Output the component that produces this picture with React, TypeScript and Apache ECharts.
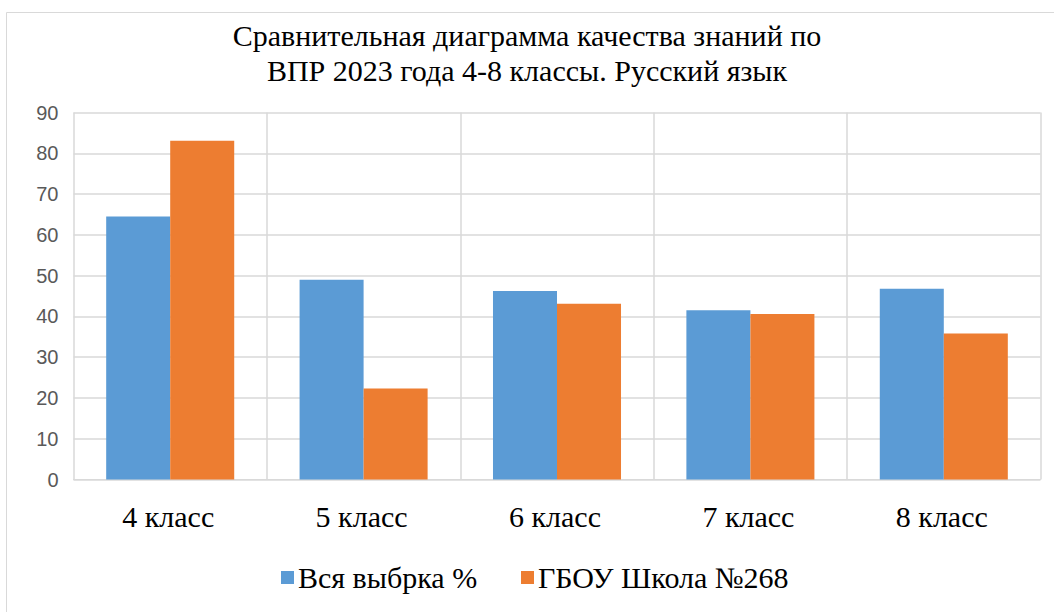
import React, { useEffect, useRef } from "react";
import * as echarts from "echarts";

const categories = ["4 класс", "5 класс", "6 класс", "7 класс", "8 класс"];
const seriesNames = ["Вся выбрка %", "ГБОУ Школа №268"];
const seriesColors = ["#5b9bd5", "#ed7d31"];
const allSample = [64.5, 49, 46.2, 41.5, 46.8];
const school = [83.1, 22.3, 43.1, 40.6, 35.8];
const titleLines = ["Сравнительная диаграмма качества знаний по", "ВПР 2023 года 4-8 классы. Русский язык"];

const SERIF = "Liberation Serif";
const TEXT_COLOR = "#000";

export default function App() {
  const ref = useRef<HTMLDivElement>(null);
  useEffect(() => {
    const chart = echarts.init(ref.current!, null, { renderer: "svg" });
    chart.setOption({
      animation: false,
      legend: { show: false, data: seriesNames },
      grid: { left: 73.5, right: 13.5, top: 112.5, bottom: 132.5, containLabel: false },
      xAxis: {
        type: "category",
        data: categories,
        axisLine: { lineStyle: { color: "#d9d9d9" } },
        axisTick: { show: false },
        splitLine: { show: true, lineStyle: { color: "#d9d9d9", width: 1.5 } },
        axisLabel: { show: false },
      },
      yAxis: {
        type: "value",
        min: 0,
        max: 90,
        interval: 10,
        axisLine: { show: false },
        axisTick: { show: false },
        splitLine: { lineStyle: { color: "#d9d9d9", width: 1.5 } },
        axisLabel: { fontSize: 20, color: "#595959", margin: 15 },
      },
      series: [
        {
          name: seriesNames[0],
          type: "bar",
          data: allSample,
          itemStyle: { color: seriesColors[0] },
          barGap: "0%",
          barCategoryGap: "33.8%",
        },
        {
          name: seriesNames[1],
          type: "bar",
          data: school,
          itemStyle: { color: seriesColors[1] },
          barGap: "0%",
          barCategoryGap: "33.8%",
        },
      ],
    });

    const xLabels = categories.map((c, i) => {
      const px = chart.convertToPixel({ xAxisIndex: 0 }, c) as number;
      return {
        type: "text",
        x: px - 48,
        y: 501,
        style: { text: c, fontFamily: SERIF, fontSize: 30, fill: TEXT_COLOR },
      };
    });

    const legendItems: any[] = [];
    const legendX = [281, 521];
    seriesNames.forEach((n, i) => {
      legendItems.push({
        type: "rect",
        shape: { x: legendX[i], y: 571, width: 13, height: 13 },
        style: { fill: seriesColors[i] },
      });
      legendItems.push({
        type: "text",
        x: legendX[i] + 17,
        y: 562,
        style: { text: n, fontFamily: SERIF, fontSize: 30, fill: TEXT_COLOR },
      });
    });

    const titles = titleLines.map((t, i) => ({
      type: "text",
      left: "center",
      top: i === 0 ? 20 : 55,
      style: { text: t, fontFamily: SERIF, fontSize: 30, fill: TEXT_COLOR },
    }));

    chart.setOption({
      graphic: [
        {
          type: "rect",
          shape: { x: 6.5, y: 12.5, width: 1200, height: 800 },
          style: { fill: "none", stroke: "#d9d9d9", lineWidth: 1 },
        },
        ...titles,
        ...xLabels,
        ...legendItems,
      ],
    });
    return () => chart.dispose();
  }, []);
  return <div ref={ref} style={{ position: "fixed", left: 0, top: 0, width: 1054, height: 612, background: "#fff" }} />;
}
